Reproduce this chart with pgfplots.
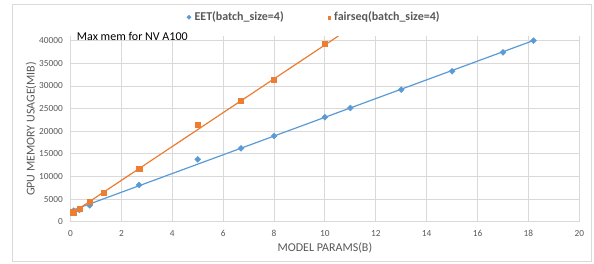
\documentclass[border=0pt]{standalone}
\usepackage{fontspec}
\setmainfont{Carlito}
\usepackage{pgfplots}
\pgfplotsset{compat=1.18}
\definecolor{eetblue}{HTML}{5B9BD5}
\definecolor{fsorange}{HTML}{ED7D31}
\definecolor{gridgray}{HTML}{D9D9D9}
\definecolor{txtgray}{HTML}{595959}
\begin{document}
\begin{tikzpicture}[x=1pt,y=1pt]
\useasboundingbox (0,0) rectangle (594,264);
\fill[white] (0,0) rectangle (594,264);
\draw[gridgray, line width=0.8pt] (12.7,2.5) rectangle (591.7,260);
\begin{axis}[
  at={(70.5pt,42.3pt)}, anchor=south west,
  scale only axis, width=508.8pt, height=185.5pt,
  xmin=0, xmax=20, ymin=0, ymax=41000,
  xtick={0,2,...,20}, ytick={0,5000,...,40000},
  scaled y ticks=false, scaled x ticks=false,
  axis line style={draw=none},
  major tick length=0pt,
  grid=major,
  major grid style={gridgray, line width=0.9pt},
  /pgf/number format/assume math mode=true,
  /pgf/number format/1000 sep={},
  tick label style={font=\fontsize{9.3}{10}\selectfont, text=txtgray},
  xticklabel style={anchor=center, yshift=-11.6pt},
  yticklabel style={anchor=east, inner sep=0pt, xshift=-7.5pt},
  xlabel={MODEL PARAMS(B)},
  ylabel={GPU MEMORY USAGE(MIB)},
  label style={font=\fontsize{12}{14}\selectfont, text=txtgray},
  xlabel style={at={(axis description cs:0.5,-0.1434)}, anchor=center},
  ylabel style={at={(axis description cs:-0.0776,0.5)}, anchor=center},
  legend columns=2,
  legend style={at={(axis description cs:0.2289,1.102)}, anchor=west, draw=none, fill=none,
    inner sep=0pt, outer sep=0pt,
    font=\fontsize{12}{14}\selectfont\bfseries, text=txtgray,
    /tikz/every odd column/.append style={column sep=3.5pt},
    /tikz/every even column/.append style={column sep=44pt},
    nodes={inner xsep=0pt, inner ysep=1pt}},
  legend image code/.code={\draw[#1, mark size=1.45pt] plot coordinates {(2pt,0pt)};},
]
% trendlines
\addplot[eetblue, line width=1.2pt, forget plot] coordinates {(0.11,2590) (18.2,40050)};
\addplot[fsorange, line width=1.2pt, forget plot] coordinates {(0.09,1990) (10.53,41040)};
% data
\addplot[only marks, mark=square*, mark options={rotate=45}, mark size=2.1pt, color=eetblue] coordinates {
(0.125,2450) (0.35,2600) (0.76,3600) (2.7,8110) (5.0,13790) (6.7,16220) (8.0,18940)
(10.0,23070) (11.0,25130) (13.0,29170) (15.0,33240) (17.0,37440) (18.2,40000)};
\addlegendentry{EET(batch\_size=4)}
\addplot[only marks, mark=square*, mark size=2.6pt, color=fsorange] coordinates {
(0.11,2080) (0.35,2800) (0.76,4420) (1.29,6410) (2.7,11650) (5.0,21370) (6.7,26680)
(8.0,31320) (10.0,39340)};
\addlegendentry{fairseq(batch\_size=4)}
\end{axis}
\node[anchor=west, inner sep=0pt, font=\fontsize{12}{14}\selectfont] at (76.7,228) {Max mem for NV A100};
\end{tikzpicture}
\end{document}
